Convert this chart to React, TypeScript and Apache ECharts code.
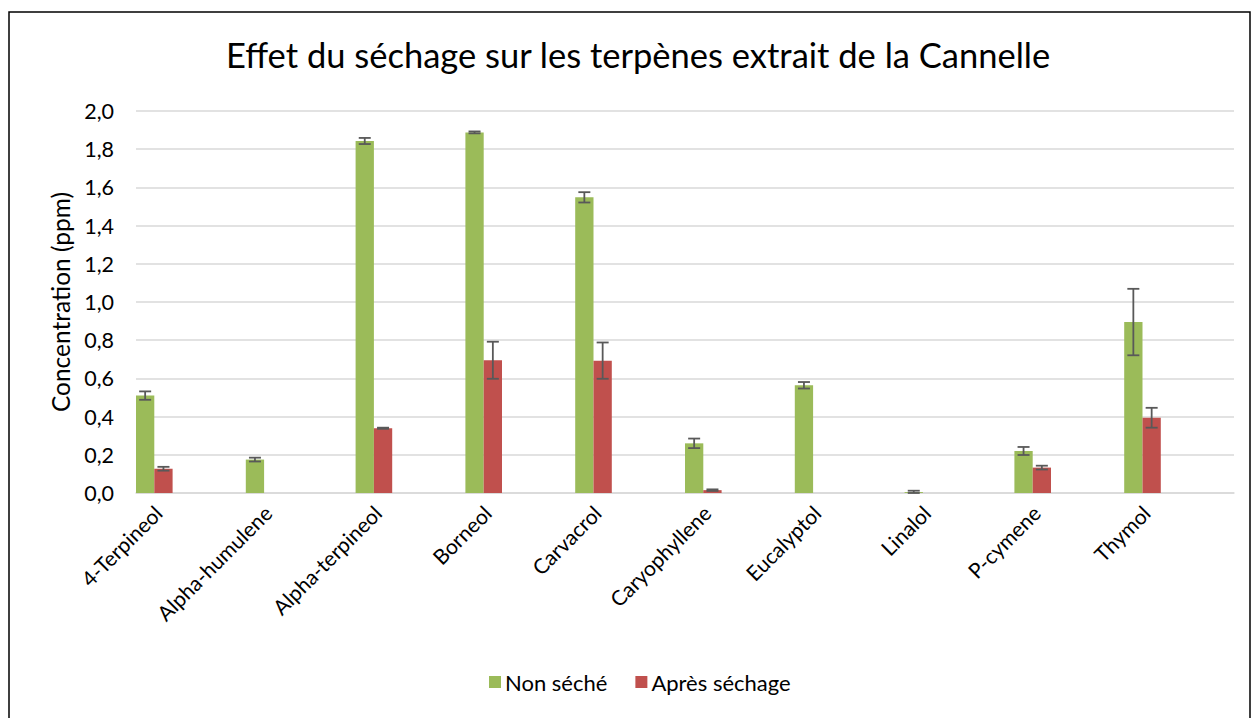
import React, { useEffect, useRef } from "react";
import * as echarts from "echarts";

const categories = ["4-Terpineol", "Alpha-humulene", "Alpha-terpineol", "Borneol", "Carvacrol", "Caryophyllene", "Eucalyptol", "Linalol", "P-cymene", "Thymol"];
const nonSeche = [0.51, 0.175, 1.843, 1.888, 1.548, 0.26, 0.564, 0.005, 0.22, 0.895];
const nonSecheErr = [0.022, 0.01, 0.016, 0.005, 0.027, 0.025, 0.017, 0.007, 0.021, 0.174];
const apresSechage = [0.127, 0, 0.339, 0.695, 0.693, 0.015, 0, 0, 0.133, 0.394];
const apresSechageErr = [0.01, 0, 0.003, 0.097, 0.095, 0.004, 0, 0, 0.01, 0.052];

const FONT = "Lato";
const SLOTS = 6;

export default function App() {
  const ref = useRef<HTMLDivElement>(null);
  useEffect(() => {
    const chart = echarts.init(ref.current!, null, { renderer: "svg" });
    const errData = (vals: number[], errs: number[]) =>
      vals
        .map((v, i) => (v > 0 || errs[i] > 0 ? [i, v - errs[i], v + errs[i]] : null))
        .filter((d) => d !== null);
    const errSeries = (name: string, slot: number, vals: number[], errs: number[]) => ({
      type: "custom",
      name: name + "-err",
      z: 10,
      data: errData(vals, errs),
      encode: { x: 0, y: [1, 2] },
      renderItem: (params: any, api: any) => {
        const idx = api.value(0);
        const lo = api.coord([idx, Math.max(api.value(1), 0)]);
        const hi = api.coord([idx, api.value(2)]);
        const cw = api.size([1, 0])[0];
        const x = lo[0] - cw / 2 + (slot + 0.5) * (cw / SLOTS);
        const half = 6;
        const style = { stroke: "#595959", lineWidth: 1.8 };
        return {
          type: "group",
          children: [
            { type: "line", shape: { x1: x, y1: lo[1], x2: x, y2: hi[1] }, style },
            { type: "line", shape: { x1: x - half, y1: lo[1], x2: x + half, y2: lo[1] }, style },
            { type: "line", shape: { x1: x - half, y1: hi[1], x2: x + half, y2: hi[1] }, style },
          ],
        };
      },
    });
    const dummy = (n: number) => ({ type: "bar", name: "dummy" + n, data: [] as number[], barGap: "0%", barCategoryGap: "0%" });
    chart.setOption({
      animation: false,
      textStyle: { fontFamily: FONT },
      title: {
        text: "Effet du séchage sur les terpènes extrait de la Cannelle",
        left: 221,
        top: 32,
        textStyle: { fontFamily: FONT, fontSize: 34.5, fontWeight: "normal", color: "#000" },
      },
      graphic: [
        {
          type: "rect",
          shape: { x: 9, y: 12, width: 1241, height: 720 },
          style: { fill: "none", stroke: "#000", lineWidth: 1.5 },
          silent: true,
        },
      ],
      legend: {
        data: ["Non séché", "Après séchage"],
        bottom: 20,
        left: 484,
        itemWidth: 12,
        itemHeight: 12,
        itemGap: 28,
        icon: "rect",
        textStyle: { fontFamily: FONT, fontSize: 22, color: "#000", padding: [0, 0, 0, -1] },
      },
      grid: [
        { left: 136, right: 18, top: 111, bottom: 225 },
        { left: 103, right: 51, top: 111, bottom: 225 },
      ],
      xAxis: [
        {
          type: "category",
          data: categories,
          gridIndex: 0,
          axisLine: { lineStyle: { color: "#D9D9D9", width: 1.5 } },
          axisTick: { show: false },
          axisLabel: { show: false },
        },
        {
          type: "category",
          data: categories,
          gridIndex: 1,
          axisLine: { show: false },
          axisTick: { show: false },
          splitLine: { show: false },
          axisLabel: { rotate: 45, fontSize: 21, color: "#000", fontFamily: FONT, margin: 16, interval: 0 },
        },
      ],
      yAxis: [
        {
          type: "value",
          gridIndex: 0,
          min: 0,
          max: 2,
          interval: 0.2,
          name: "Concentration (ppm)",
          nameLocation: "middle",
          nameGap: 62,
          nameTextStyle: { fontFamily: FONT, fontSize: 24.5, color: "#000" },
          axisLabel: {
            fontSize: 21.5,
            color: "#000",
            fontFamily: FONT,
            margin: 22,
            formatter: (v: number) => v.toFixed(1).replace(".", ","),
          },
          splitLine: { lineStyle: { color: "#D9D9D9", width: 1.5 } },
        },
        { type: "value", gridIndex: 1, min: 0, max: 2, show: false, splitLine: { show: false } },
      ],
      series: [
        { type: "bar", name: "Non séché", data: nonSeche, itemStyle: { color: "#9BBB59" }, barGap: "0%", barCategoryGap: "0%" },
        { type: "bar", name: "Après séchage", data: apresSechage, itemStyle: { color: "#C0504D" }, barGap: "0%", barCategoryGap: "0%" },
        dummy(1),
        dummy(2),
        dummy(3),
        dummy(4),
        errSeries("Non séché", 0, nonSeche, nonSecheErr),
        errSeries("Après séchage", 1, apresSechage, apresSechageErr),
      ],
    });
    return () => chart.dispose();
  }, []);
  return <div ref={ref} style={{ position: "absolute", left: 0, top: 0, width: 1252, height: 718 }} />;
}
